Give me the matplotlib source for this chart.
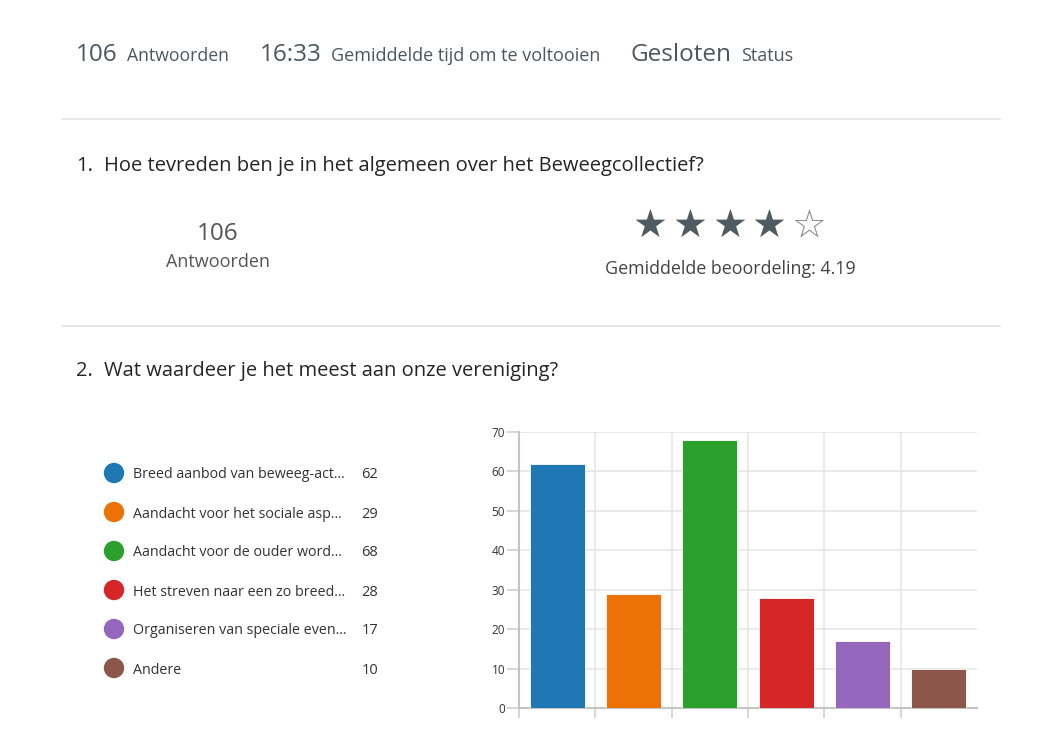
import numpy as np
import matplotlib.pyplot as plt
from matplotlib.lines import Line2D
from matplotlib.patches import Ellipse

# Gegevens
header_values = ["106", "16:33", "Gesloten"]
header_labels = ["Antwoorden", "Gemiddelde tijd om te voltooien", "Status"]
q1_title = "Hoe tevreden ben je in het algemeen over het Beweegcollectief?"
q1_count = "106"
q1_rating = 4.19
q2_title = "Wat waardeer je het meest aan onze vereniging?"
options = [
    "Breed aanbod van beweeg-act...",
    "Aandacht voor het sociale asp...",
    "Aandacht voor de ouder word...",
    "Het streven naar een zo breed...",
    "Organiseren van speciale even...",
    "Andere",
]
counts = [62, 29, 68, 28, 17, 10]
colors = ["#1f77b4", "#ec7207", "#2ca02c", "#d62728", "#9467bd", "#8c564b"]

W, H = 1051, 730
plt.rcParams['font.family'] = ['Open Sans', 'DejaVu Sans']
fig = plt.figure(figsize=(W / 100, H / 100), dpi=100)
fig.patch.set_facecolor('white')


def fx(x):
    return x / W


def fy(y):
    return 1 - y / H


def txt(x, y, s, size, color, ha='left', va='baseline', **kw):
    fig.text(fx(x), fy(y), s, fontsize=size, color=color, ha=ha, va=va, **kw)


# Kopregel
dark = "#4b5760"
txt(76, 61, header_values[0], 17.5, dark)
txt(127, 61, header_labels[0], 12.7, dark)
txt(260, 61, header_values[1], 17.5, dark)
txt(331, 61, header_labels[1], 13, dark)
txt(631, 61, header_values[2], 17.5, dark)
txt(741, 61, header_labels[2], 13, dark)

# Scheidingslijnen
for yy in (119, 326):
    fig.add_artist(Line2D([fx(62), fx(1000)], [fy(yy), fy(yy)], color="#e3e3e3", lw=1.2))

# Vraag 1
txt(76, 171, "1.", 14.5, "#252525")
txt(104, 171, q1_title, 14.5, "#252525")
txt(218, 240, q1_count, 17.5, "#555555", ha='center')
txt(218, 267, "Antwoorden", 13, "#555555", ha='center')
star_x = [650, 690, 730, 769, 809]
for i, sx in enumerate(star_x):
    full = i < int(q1_rating)
    fig.text(fx(sx), fy(226), "★" if full else "☆", fontsize=28,
             color="#505a61" if full else "#8a8a8a", ha='center', va='center',
             family='DejaVu Sans')
txt(730, 274, f"Gemiddelde beoordeling: {q1_rating}", 12.9, "#444444", ha='center')

# Vraag 2
txt(76, 376, "2.", 14.5, "#252525")
txt(104, 376, q2_title, 14.5, "#252525")

# Legenda
for i, (lab, c, n) in enumerate(zip(options, colors, counts)):
    yy = 473 + i * 39
    fig.add_artist(Ellipse((fx(114), fy(yy)), 19 / W, 19 / H, color=c))
    txt(133, yy + 5.5, lab, 10.25, "#333333")
    txt(378, yy + 5.5, str(n), 10.5, "#333333", ha='right')

# Staafdiagram
ax = fig.add_axes([fx(519), fy(708), fx(977) - fx(519), (708 - 432) / H])
x = np.arange(len(counts))
ax.bar(x, counts, width=0.72, color=colors, edgecolor='white', linewidth=0.6, zorder=3)
ax.set_xlim(-0.5, len(counts) - 0.5)
ax.set_ylim(0, 70)
ax.set_yticks(np.arange(0, 71, 10))
ax.set_xticks(np.arange(-0.5, len(counts) - 1, 1))
ax.set_xticklabels([])
ax.grid(True, color="#e6e6e6", lw=1.2, zorder=0)
for s in ('top', 'right'):
    ax.spines[s].set_visible(False)
for s in ('left', 'bottom'):
    ax.spines[s].set_color("#c4c4c4")
    ax.spines[s].set_linewidth(1.5)
ax.tick_params(axis='y', length=9, width=1.2, color="#d0d0d0", labelsize=8.5,
               labelcolor="#333333", pad=1)
ax.tick_params(axis='x', length=7, width=1.2, color="#d0d0d0")

fig.savefig("out.png", dpi=100, facecolor='white')
